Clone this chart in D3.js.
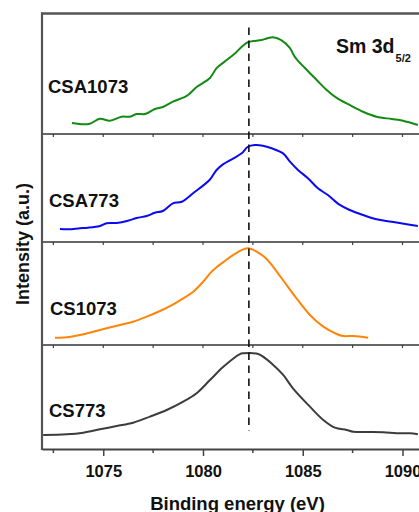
<!DOCTYPE html>
<html>
<head>
<meta charset="utf-8">
<script src="https://cdn.jsdelivr.net/npm/d3@7"></script>
<style>
  body { margin: 0; background: #fff; }
  text { font-family: "Liberation Sans", Arial, sans-serif; font-weight: bold; }
</style>
</head>
<body>
<div id="chart"></div>
<script>
// sample names, top to bottom
var samples = ["CSA1073", "CSA773", "CS1073", "CS773"];
var colors = ["#138a13", "#0a0af0", "#ff8509", "#3c3c3c"];

// binding energy (eV) and normalised intensity
var csa1073E = [1073.43, 1074.28, 1074.83, 1075.33, 1075.92, 1076.34, 1076.67, 1077.09, 1077.59, 1077.99, 1078.49, 1079.0, 1079.25, 1079.68, 1080.35, 1080.68, 1081.10, 1081.60, 1082.0, 1082.28, 1082.94, 1083.2, 1083.5, 1083.9, 1084.35, 1084.61, 1085.11, 1085.70, 1086.20, 1086.70, 1087.35, 1088.02, 1088.70, 1089.46, 1090.02, 1090.77];
var csa1073I = [0.091, 0.083, 0.126, 0.110, 0.143, 0.143, 0.165, 0.165, 0.207, 0.223, 0.267, 0.300, 0.322, 0.388, 0.463, 0.545, 0.600, 0.665, 0.730, 0.760, 0.777, 0.790, 0.800, 0.777, 0.711, 0.636, 0.545, 0.446, 0.364, 0.298, 0.240, 0.184, 0.143, 0.124, 0.110, 0.074];

var csa773E = [1072.83, 1073.25, 1073.83, 1074.23, 1074.83, 1075.17, 1075.67, 1076.24, 1076.67, 1077.18, 1077.59, 1077.99, 1078.49, 1078.93, 1079.50, 1080.35, 1080.68, 1081.0, 1081.44, 1081.94, 1082.25, 1082.60, 1083.0, 1083.44, 1084.01, 1084.36, 1084.76, 1085.26, 1085.76, 1086.26, 1086.86, 1087.36, 1088.02, 1088.70, 1089.46, 1090.21, 1090.77];
var csa773I = [0.120, 0.118, 0.127, 0.132, 0.148, 0.173, 0.176, 0.197, 0.222, 0.241, 0.271, 0.287, 0.358, 0.373, 0.451, 0.579, 0.667, 0.719, 0.766, 0.821, 0.882, 0.898, 0.892, 0.868, 0.821, 0.744, 0.667, 0.590, 0.497, 0.435, 0.343, 0.296, 0.250, 0.210, 0.188, 0.164, 0.148];

var cs1073E = [1072.58, 1073.17, 1073.83, 1074.50, 1075.17, 1075.84, 1076.50, 1077.18, 1077.84, 1078.51, 1079.01, 1079.51, 1080.01, 1080.35, 1080.68, 1081.02, 1081.5, 1082.02, 1082.27, 1082.69, 1083.19, 1083.94, 1084.69, 1085.36, 1086.03, 1086.70, 1087.03, 1087.53, 1088.28];
var cs1073I = [0.071, 0.075, 0.097, 0.129, 0.162, 0.194, 0.226, 0.275, 0.330, 0.395, 0.453, 0.517, 0.615, 0.695, 0.755, 0.805, 0.872, 0.928, 0.939, 0.906, 0.835, 0.648, 0.453, 0.291, 0.178, 0.107, 0.087, 0.087, 0.071];

var cs773E = [1071.99, 1073.17, 1074.0, 1074.83, 1075.67, 1076.50, 1077.34, 1078.18, 1079.01, 1079.68, 1080.35, 1081.02, 1081.85, 1082.02, 1082.77, 1083.52, 1084.02, 1084.52, 1085.36, 1086.03, 1086.61, 1087.20, 1087.53, 1088.20, 1089.04, 1089.71, 1090.37, 1090.77];
var cs773I = [0.135, 0.141, 0.157, 0.189, 0.221, 0.253, 0.311, 0.375, 0.455, 0.536, 0.663, 0.791, 0.913, 0.920, 0.913, 0.808, 0.712, 0.581, 0.407, 0.279, 0.205, 0.183, 0.166, 0.163, 0.161, 0.151, 0.151, 0.141];

var energies = [csa1073E, csa773E, cs1073E, cs773E];
var intensities = [csa1073I, csa773I, cs1073I, cs773I];

var majorTicks = [1075, 1080, 1085, 1090];
var minorTicks = [1072.5, 1077.5, 1082.5, 1087.5];
var refEnergy = 1082.3; // dashed reference line

var width = 419, height = 512;
var panelEdges = [13, 134, 242, 345, 449]; // y of panel borders, top to bottom

var svg = d3.select("#chart")
  .append("svg")
  .attr("width", width)
  .attr("height", height);

var x = d3.scaleLinear().domain([1071.93, 1092]).range([42, 442.4]);

var line = d3.line().curve(d3.curveCatmullRom.alpha(0.5));

// traces, each in its own stacked panel
samples.forEach(function(name, i) {
  var top = panelEdges[i], bottom = panelEdges[i + 1];
  var y = d3.scaleLinear().domain([0, 1]).range([bottom, top]);
  var pts = energies[i].map(function(e, j) { return [x(e), y(intensities[i][j])]; });

  svg.append("path")
    .attr("d", line(pts))
    .attr("fill", "none")
    .attr("stroke", colors[i])
    .attr("stroke-width", 2);

  // little ticks under every panel border
  if (i < samples.length - 1) {
    svg.selectAll(null)
      .data(majorTicks.concat(minorTicks))
      .enter().append("line")
      .attr("x1", function(d) { return x(d); })
      .attr("x2", function(d) { return x(d); })
      .attr("y1", bottom)
      .attr("y2", bottom + 3)
      .attr("stroke", "#444")
      .attr("stroke-width", 1.2);

    svg.append("line")
      .attr("x1", 42).attr("x2", width)
      .attr("y1", bottom).attr("y2", bottom)
      .attr("stroke", "#333")
      .attr("stroke-width", 1.5);
  }
});

// sample labels
var labelPos = [[48, 93], [49, 207], [50, 315], [49, 417]];
svg.selectAll(".lbl")
  .data(samples)
  .enter().append("text")
  .attr("class", "lbl")
  .attr("x", function(d, i) { return labelPos[i][0]; })
  .attr("y", function(d, i) { return labelPos[i][1]; })
  .attr("font-size", "18.5px")
  .attr("fill", "#111")
  .text(function(d) { return d; });

// dashed line at the reference energy
svg.append("line")
  .attr("x1", x(refEnergy)).attr("x2", x(refEnergy))
  .attr("y1", 27.5).attr("y2", 431)
  .attr("stroke", "#111")
  .attr("stroke-width", 1.6)
  .attr("stroke-dasharray", "7.5,5.5");

// frame: top and left
svg.append("line")
  .attr("x1", 41).attr("x2", width)
  .attr("y1", 13.5).attr("y2", 13.5)
  .attr("stroke", "#555").attr("stroke-width", 2.5);
svg.append("line")
  .attr("x1", 42).attr("x2", 42)
  .attr("y1", 12.5).attr("y2", 450)
  .attr("stroke", "#555").attr("stroke-width", 2.2);

// bottom axis
var xAxis = svg.append("g")
  .attr("transform", "translate(0,449)")
  .call(d3.axisBottom(x).tickValues(majorTicks).tickSize(7).tickSizeOuter(0).tickPadding(9).tickFormat(d3.format("d")));
xAxis.select(".domain").attr("stroke", "#444").attr("stroke-width", 2.2);
xAxis.selectAll(".tick line").attr("stroke", "#444").attr("stroke-width", 1.5);
xAxis.selectAll(".tick text")
  .attr("font-size", "16.5px")
  .attr("font-family", "Liberation Sans, Arial, sans-serif")
  .attr("font-weight", "bold")
  .attr("fill", "#111");

svg.selectAll(".minor")
  .data(minorTicks)
  .enter().append("line")
  .attr("class", "minor")
  .attr("x1", function(d) { return x(d); })
  .attr("x2", function(d) { return x(d); })
  .attr("y1", 449).attr("y2", 453)
  .attr("stroke", "#444").attr("stroke-width", 1.5);

// axis titles
svg.append("text")
  .attr("x", 237.5).attr("y", 510)
  .attr("text-anchor", "middle")
  .attr("font-size", "18.5px")
  .attr("fill", "#111")
  .text("Binding energy (eV)");

svg.append("text")
  .attr("transform", "translate(28.5,244) rotate(-90)")
  .attr("text-anchor", "middle")
  .attr("font-size", "18px")
  .attr("fill", "#111")
  .text("Intensity (a.u.)");

// core level label
var sm = svg.append("text")
  .attr("x", 336).attr("y", 53.3)
  .attr("font-size", "19.5px")
  .attr("fill", "#111");
sm.append("tspan").text("Sm 3d");
sm.append("tspan")
  .attr("font-size", "11px")
  .attr("dy", 8.4)
  .attr("dx", 1)
  .text("5/2");
</script>
</body>
</html>
